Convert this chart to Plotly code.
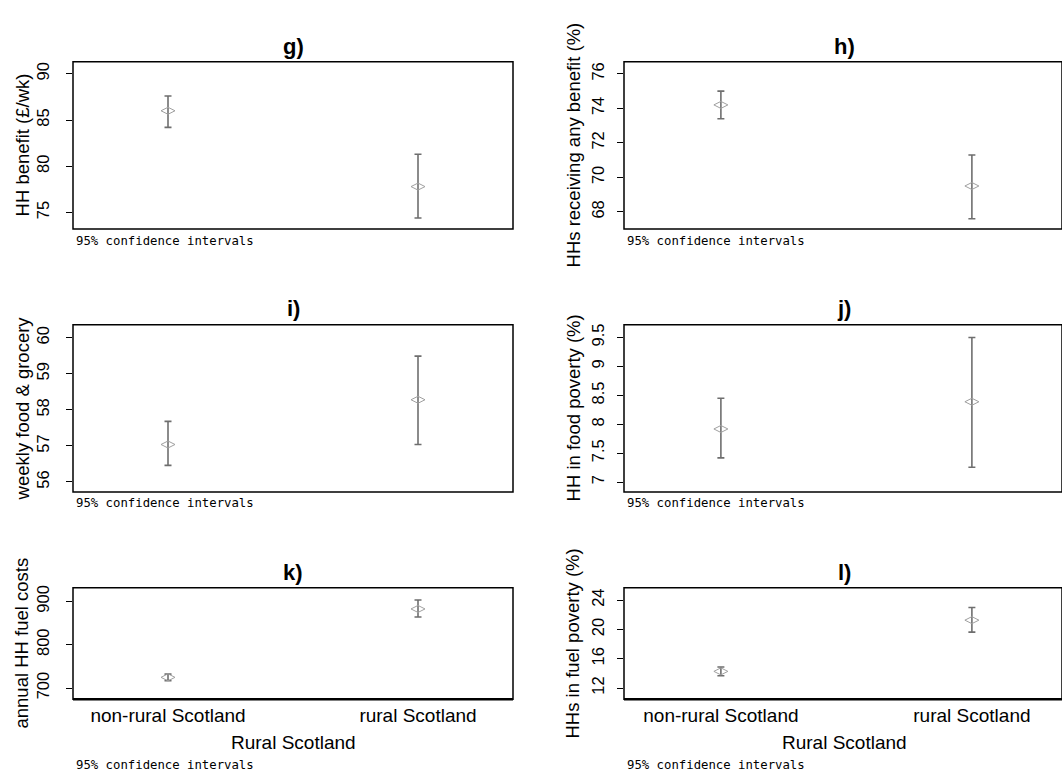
import plotly.graph_objects as go

W, H = 1062, 772

categories = ["non-rural Scotland", "rural Scotland"]

g_mean = [86.0, 77.8]
g_lo = [84.2, 74.4]
g_hi = [87.6, 81.3]

h_mean = [74.2, 69.5]
h_lo = [73.4, 67.6]
h_hi = [75.0, 71.3]

i_mean = [57.04, 58.28]
i_lo = [56.46, 57.04]
i_hi = [57.68, 59.49]

j_mean = [7.92, 8.39]
j_lo = [7.42, 7.26]
j_hi = [8.45, 9.50]

k_mean = [724.6, 882.5]
k_lo = [717.0, 864.0]
k_hi = [732.0, 903.0]

l_mean = [14.27, 21.27]
l_lo = [13.68, 19.63]
l_hi = [14.86, 23.0]

g_ticks = [75, 80, 85, 90]
h_ticks = [68, 70, 72, 74, 76]
i_ticks = [56, 57, 58, 59, 60]
j_ticks = [7, 7.5, 8, 8.5, 9, 9.5]
k_ticks = [700, 800, 900]
l_ticks = [12, 16, 20, 24]

panels = [
    dict(name="g)", ytitle="HH benefit (£/wk)", mean=g_mean, lo=g_lo, hi=g_hi, ticks=g_ticks, yr=[73.2, 91.3]),
    dict(name="h)", ytitle="HHs receiving any benefit (%)", mean=h_mean, lo=h_lo, hi=h_hi, ticks=h_ticks, yr=[67.0, 76.7]),
    dict(name="i)", ytitle="weekly food & grocery", mean=i_mean, lo=i_lo, hi=i_hi, ticks=i_ticks, yr=[55.72, 60.36]),
    dict(name="j)", ytitle="HH in food poverty (%)", mean=j_mean, lo=j_lo, hi=j_hi, ticks=j_ticks, yr=[6.83, 9.72]),
    dict(name="k)", ytitle="annual HH fuel costs", mean=k_mean, lo=k_lo, hi=k_hi, ticks=k_ticks, yr=[674, 931.5]),
    dict(name="l)", ytitle="HHs in fuel poverty (%)", mean=l_mean, lo=l_lo, hi=l_hi, ticks=l_ticks, yr=[10.46, 25.7]),
]

# layout geometry in pixels
col_x = [(73, 513), (624, 1062)]
col_cx = [293, 844]
col_xrange = [[-0.38, 1.38], [-0.386, 1.359]]
col_standoff = [10, 6]
row_y = [(59, 227), (323, 491), (587, 699)]
title_y = [44, 307, 572]
note_y = [239, 502, 765]
ytitle_x = [22, 573]

SANS = "Liberation Sans, Arial, sans-serif"

fig = go.Figure()
layout = dict(
    width=W, height=H, margin=dict(l=0, r=0, t=0, b=0),
    paper_bgcolor="white", plot_bgcolor="white", showlegend=False,
    annotations=[], shapes=[],
)

xs = list(range(len(categories)))

for idx, p in enumerate(panels):
    r, c = divmod(idx, 2)
    n = idx + 1
    xa = "xaxis" if n == 1 else f"xaxis{n}"
    ya = "yaxis" if n == 1 else f"yaxis{n}"
    xref = "x" if n == 1 else f"x{n}"
    yref = "y" if n == 1 else f"y{n}"
    x0, x1 = col_x[c]
    top, bot = row_y[r]
    bottom_row = (r == 2)

    err_plus = [h - m for h, m in zip(p["hi"], p["mean"])]
    err_minus = [m - l for m, l in zip(p["mean"], p["lo"])]
    fig.add_trace(go.Scatter(
        x=xs, y=p["mean"], xaxis=xref, yaxis=yref, mode="markers",
        marker=dict(symbol="diamond-wide-open", size=10, color="#a0a0a0", line=dict(width=1)),
        error_y=dict(type="data", array=err_plus, arrayminus=err_minus,
                     color="#6e6e6e", thickness=1.6, width=3.5),
        hoverinfo="skip",
    ))

    layout[xa] = dict(
        domain=[x0 / W, x1 / W], range=col_xrange[c], anchor=yref,
        showgrid=False, zeroline=False, showline=False,
        tickvals=xs if bottom_row else [], ticktext=categories if bottom_row else [],
        showticklabels=bottom_row, ticks="",
        tickfont=dict(family=SANS, size=19, color="black"),
        ticklabelstandoff=3,
    )
    layout[ya] = dict(
        domain=[1 - bot / H, 1 - top / H], range=p["yr"], anchor=xref,
        showgrid=False, zeroline=False, showline=False,
        tickvals=p["ticks"], ticktext=[f"{t:g}" for t in p["ticks"]],
        ticks="outside", ticklen=6, tickwidth=1.2, tickcolor="black",
        tickangle=-90, tickfont=dict(family=SANS, size=16.5, color="black"),
        ticklabelstandoff=col_standoff[c],
    )
    # frame
    layout["shapes"].append(dict(type="rect", xref=f"{xref} domain", yref=f"{yref} domain",
                                 x0=0, x1=1, y0=0, y1=1, line=dict(color="black", width=1.5)))
    if bottom_row:
        layout["shapes"].append(dict(type="line", xref=f"{xref} domain", yref=f"{yref} domain",
                                     x0=0, x1=1, y0=0, y1=0, line=dict(color="black", width=2.5)))
    cx = col_cx[c]
    # title
    layout["annotations"].append(dict(
        text=p["name"], xref="paper", yref="paper", x=cx / W, y=1 - title_y[r] / H,
        xanchor="center", yanchor="middle", showarrow=False,
        font=dict(family=SANS, size=22, color="black", weight="bold"),
    ))
    # y title
    layout["annotations"].append(dict(
        text=p["ytitle"], xref="paper", yref="paper", x=ytitle_x[c] / W,
        y=1 - ((top + bot) / 2) / H, xanchor="center", yanchor="middle",
        textangle=-90, showarrow=False,
        font=dict(family=SANS, size=18.5, color="black"),
    ))
    # note
    layout["annotations"].append(dict(
        text="95% confidence intervals", xref="paper", yref="paper",
        x=(x0 + 1) / W, y=1 - note_y[r] / H, xanchor="left", yanchor="middle",
        showarrow=False, font=dict(family="DejaVu Sans Mono, monospace", size=12.3, color="black"),
    ))
    if bottom_row:
        layout["annotations"].append(dict(
            text="Rural Scotland", xref="paper", yref="paper", x=cx / W, y=1 - 742 / H,
            xanchor="center", yanchor="middle", showarrow=False,
            font=dict(family=SANS, size=19, color="black"),
        ))

fig.update_layout(**layout)
fig.write_html("out.html", config={"displayModeBar": False},
               post_script="document.body.style.margin='0';")
